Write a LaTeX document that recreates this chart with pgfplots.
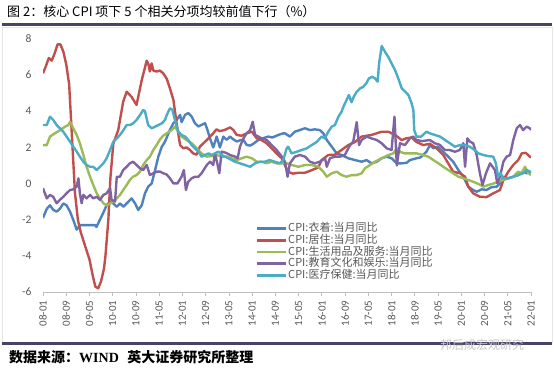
\documentclass[border=0pt]{standalone}
\usepackage{fontspec}
\setmainfont{Carlito}
\newfontfamily\cjk{Noto Sans CJK SC}
\newfontfamily\serifb{Liberation Serif}
\usepackage{pgfplots}
\pgfplotsset{compat=1.18}
\definecolor{cblue}{HTML}{4F81BD}
\definecolor{cred}{HTML}{C0504D}
\definecolor{cgreen}{HTML}{9BBB59}
\definecolor{cpurple}{HTML}{8064A2}
\definecolor{ccyan}{HTML}{4BACC6}
\definecolor{labelgray}{HTML}{595959}
\definecolor{axisgray}{HTML}{BFBFBF}
\definecolor{titlepurple}{HTML}{4A4266}
\begin{document}
\begin{tikzpicture}[x=1pt,y=1pt]
\useasboundingbox (0,0) rectangle (554,369);
\fill[white] (0,0) rectangle (554,369);
\draw[gray!20, line width=0.6pt] (2,27) rectangle (552,342);
\draw[titlepurple, line width=3pt] (2,344) -- (552,344);
\draw[titlepurple, line width=3pt] (2,25) -- (552,25);
\node[anchor=west, inner sep=0pt] at (7,357) {\cjk\fontsize{13}{15}\selectfont 图 2：核心 CPI 项下 5 个相关分项均较前值下行（\%）};
\node[anchor=west, inner sep=0pt] at (9,12) {\cjk\bfseries\fontsize{14}{16}\selectfont 数据来源：{\serifb\bfseries WIND}\hspace{0.6em}英大证券研究所整理};
\node[anchor=west, inner sep=0pt, text=gray!45] at (440,24) {\cjk\fontsize{12}{14}\selectfont 邦后成宏观研究};
\begin{axis}[
  at={(43pt,77pt)}, anchor=south west, scale only axis,
  width=488pt, height=253pt,
  xmin=0, xmax=168, ymin=-6, ymax=8,
  axis x line*=bottom, axis y line*=left,
  y axis line style={draw=none},
  ytick style={draw=none},
  ytick={-6,-4,...,8},
  xtick={0,8,...,168},
  xticklabels={08-01,08-09,09-05,10-01,10-09,11-05,12-01,12-09,13-05,14-01,14-09,15-05,16-01,16-09,17-05,18-01,18-09,19-05,20-01,20-09,21-05,22-01},
  xticklabel style={rotate=90, anchor=east, font=\fontsize{11}{12}\selectfont, text=labelgray, xshift=-1pt},
  yticklabel style={font=\fontsize{11.5}{12}\selectfont, text=labelgray, xshift=-4pt},
  x axis line style={draw=axisgray, line width=0.8pt, -},
  xtick style={draw=axisgray, line width=0.8pt},
  tick align=outside, major tick length=4pt,
  /pgf/number format/assume math mode=true,
  every axis plot/.append style={line width=2.4pt, line join=round, mark=none},
  legend style={at={(0.43,0.285)}, anchor=north west, draw=none, fill=none,
    font=\cjk\fontsize{11}{13}\selectfont, text=labelgray, row sep=-1.5pt,
    nodes={inner sep=0.6pt, text height=9pt, text depth=3pt}},
  legend cell align=left,
  legend image code/.code={\draw[#1, line width=2.6pt] (0pt,0pt) -- (29pt,0pt);},
]
\addplot[color=cblue] coordinates {
(0,-1.9)(1.3,-1.4)(2.4,-1.2)(3.5,-1.45)(4.7,-1.55)(5.8,-1.4)(7,-1.1)(8.1,-1.2)(9.3,-1.55)(10.4,-2.0)(11.6,-2.55)(12.7,-2.3)(14.4,-2.3)(16.1,-2.3)(17.9,-2.3)(18.4,-2.4)(19.6,-2.0)(20.8,-1.6)(21.9,-1.2)(23.1,-1.0)(24.2,-1.1)(25.4,-1.28)(26.5,-1.1)(27.7,-1.28)(28.8,-1.1)(30.5,-0.82)(31.7,-1.1)(32.8,-1.46)(34,-1.2)(35.1,-0.54)(36.2,-0.17)(37.4,0.0)(38.6,0.75)(39.7,1.49)(40.9,2.04)(42,2.32)(43.7,2.97)(44.9,3.34)(46,3.52)(47.2,3.8)(47.7,3.4)(48.9,3.8)(50,3.9)(51.2,3.7)(52.3,3.34)(53.5,3.16)(54.6,3.25)(55.8,3.34)(56.6,2.97)(57.5,2.5)(58.6,2.0)(59.8,2.6)(60.9,2.0)(62.1,2.6)(63.2,2.42)(64.4,2.6)(65.5,2.45)(66.7,2.33)(68,2.4)(69,2.42)(70.1,2.14)(71.3,2.1)(72.4,2.2)(74.1,2.41)(75.5,2.5)(77.6,2.6)(79,2.55)(81,2.69)(82.7,2.78)(83.3,2.78)(85,2.6)(86.7,2.87)(88.4,2.96)(90.2,3.06)(91.9,2.96)(93.6,3.0)(95.3,2.96)(96.5,2.78)(97.7,2.41)(99.4,2.04)(101.1,1.67)(102.8,1.58)(105.1,1.4)(107.4,1.3)(109.7,1.21)(111.4,1.3)(113.1,1.12)(114.9,1.21)(116.6,1.4)(118.3,1.49)(120,1.4)(121.8,1.12)(123.5,1.12)(125.2,1.15)(126.3,1.3)(128.6,1.4)(130,1.45)(132,1.76)(133.2,2.13)(134.4,1.95)(135.9,2.04)(137.8,1.76)(139.5,1.49)(141.2,1.21)(143,0.75)(144.7,0.38)(146.4,-0.17)(148.1,-0.36)(149.3,-0.45)(151,-0.32)(152.7,-0.35)(154.4,-0.2)(156.2,-0.17)(157.3,0.0)(158.5,0.38)(160.2,0.3)(161.9,0.38)(163.6,0.47)(165.3,0.66)(166.5,0.57)(168,0.66)};
\addlegendentry{CPI:衣着:当月同比}
\addplot[color=cred] coordinates {
(0,6.1)(1,6.5)(2,6.95)(3,6.8)(4,7.2)(5,7.7)(6,7.7)(7,7.3)(8,6.6)(9,5.5)(10,2.5)(11,-0.5)(12,-2.0)(13,-2.7)(14,-3.2)(15,-3.7)(16,-4.2)(17,-5.0)(18,-5.7)(19,-5.8)(20,-5.4)(21,-4.7)(21.5,-4.0)(22.5,-2.0)(23.2,0.3)(24.2,2.2)(25.9,2.96)(27.6,4.53)(28.8,5.08)(30.5,4.8)(32.2,4.35)(34,5.73)(35.7,6.8)(36.3,6.6)(36.8,6.2)(37.4,6.65)(38,6.25)(39.1,6.2)(40.3,6.25)(41.4,6.1)(42.6,5.8)(43.7,5.27)(44.9,4.62)(46,3.33)(47.2,2.13)(48.3,1.95)(49.4,2.0)(50.6,1.86)(51.7,1.67)(52.9,1.6)(54,2.04)(56.4,2.41)(58.6,2.78)(59.7,3.0)(60.9,2.9)(62.6,2.97)(64.4,3.11)(65.5,2.97)(66.7,2.69)(68.4,2.65)(70.1,2.78)(71.9,2.87)(73.6,2.5)(75.3,2.4)(77,2.23)(78.7,1.95)(80.4,1.67)(82.2,1.4)(83.3,1.0)(84.4,0.65)(86,0.55)(88,0.6)(90.2,0.6)(92.5,0.74)(94.8,0.9)(95.9,1.3)(98.2,1.58)(100.5,1.6)(102.8,1.86)(105.1,2.13)(107.4,2.3)(109.7,2.6)(113.1,2.69)(116.6,2.87)(118.9,2.87)(121.2,2.69)(123.5,2.41)(125,2.5)(126.9,2.55)(128.6,2.3)(130.9,2.13)(133.2,2.2)(135.5,1.95)(137.8,1.58)(139.5,1.12)(141.2,0.66)(143.5,0.57)(145.3,0.38)(146.4,-0.17)(148.1,-0.54)(150.4,-0.73)(152.7,-0.75)(155,-0.54)(157.3,-0.36)(158.5,0.2)(160.2,0.66)(161.9,1.03)(163.6,1.3)(164.8,1.67)(166.2,1.7)(167.6,1.49)(168,1.45)};
\addlegendentry{CPI:居住:当月同比}
\addplot[color=cgreen] coordinates {
(0,2.13)(1.3,2.13)(2.4,2.6)(4.1,2.78)(5.9,2.96)(7.6,3.15)(8.7,3.24)(9.3,3.42)(10.4,3.06)(11.6,2.69)(12.7,2.23)(13.9,1.58)(15,0.93)(16.2,0.38)(17.3,-0.08)(18.5,-0.54)(19.6,-0.82)(20.8,-1.09)(21.9,-1.2)(23.1,-1.1)(24.2,-1.0)(25.4,-0.82)(26.5,-0.63)(27.6,-0.36)(28.8,-0.08)(29.9,0.2)(31,0.38)(32.2,0.47)(33.4,0.66)(34.5,1.03)(35.7,1.3)(36.8,1.49)(38,1.86)(39.1,2.13)(40.3,2.45)(41.4,2.65)(42.6,2.78)(44.3,2.96)(45.4,3.15)(46.6,2.87)(47.7,2.6)(49.4,2.41)(51.2,2.23)(52.9,1.95)(54.6,1.67)(56.4,1.49)(58,1.52)(59.8,1.58)(61.5,1.49)(63.2,1.49)(64.9,1.4)(66.7,1.3)(68.4,1.4)(70.1,1.49)(71.9,1.4)(73.6,1.21)(75.3,1.21)(77,1.12)(78.7,1.21)(80.4,1.12)(82,1.12)(83.9,1.12)(85.6,1.03)(87.9,0.93)(90.2,1.03)(92.5,1.03)(94.8,0.93)(96.5,0.66)(97.7,0.38)(99.4,0.57)(101.1,0.66)(102.8,0.47)(104.5,0.38)(106.3,0.47)(108,0.47)(109.7,0.57)(110.8,0.84)(112.6,1.03)(114.3,1.21)(116.6,1.4)(118.9,1.58)(120.6,1.67)(121.8,1.95)(123,1.75)(124.6,1.67)(126.3,1.67)(128.6,1.67)(130.9,1.58)(132.6,1.49)(134.4,1.3)(136.1,1.12)(137.8,0.93)(139.5,0.75)(141.2,0.57)(143,0.38)(144.7,0.29)(146.4,0.2)(148.1,0.1)(149.9,-0.02)(151.6,-0.17)(153.3,-0.08)(155,0.0)(156.7,0.1)(158.5,0.2)(160.2,0.29)(161.9,0.38)(163.6,0.66)(164.8,0.57)(165.9,0.93)(167,0.6)(168,0.47)};
\addlegendentry{CPI:生活用品及服务:当月同比}
\addplot[color=cpurple] coordinates {
(0,-0.26)(1.3,-0.82)(2.4,-0.63)(3.5,-0.73)(4.7,-1.09)(5.8,-0.9)(7,-0.73)(8.1,-0.54)(9.3,-0.36)(10.4,-0.32)(11.6,-0.17)(12.2,0.29)(12.7,-0.54)(13.3,-1.09)(13.9,-0.63)(15,-0.82)(16.2,-0.63)(17.3,-0.82)(18.5,-0.73)(19.6,-0.9)(20.8,-0.63)(21.9,-0.54)(23.1,-0.26)(23.6,-0.9)(24.8,-1.0)(25.4,0.38)(26.5,0.38)(27.6,0.75)(28.8,0.93)(29.9,1.12)(31,1.21)(32.2,1.03)(33.4,0.84)(34.5,0.75)(35.7,1.03)(36.8,0.47)(38,0.57)(39.1,0.66)(40.3,0.66)(41.4,0.57)(42.6,0.5)(43.7,0.29)(44.9,0.01)(46.3,0.01)(47.7,0.38)(48.5,0.75)(49.2,-0.36)(50,0.1)(51.2,0.29)(52.3,0.38)(53.5,0.38)(54.6,0.57)(56.4,1.03)(57.5,1.21)(58.6,1.03)(59.2,1.67)(60,1.12)(60.7,0.57)(61.5,1.77)(63,1.7)(64.4,1.58)(66.1,1.49)(67,1.4)(67.8,2.04)(69,2.5)(70.1,2.78)(71.3,2.96)(72.2,3.42)(73,2.69)(74.1,2.6)(75.3,2.5)(77,2.41)(78.7,2.13)(80.4,1.86)(82.2,1.49)(83.3,1.21)(84.2,0.38)(85,1.12)(86.7,1.49)(88.4,1.58)(90.2,1.49)(91.9,1.21)(93.6,1.12)(95.3,1.21)(97.1,1.4)(97.7,0.93)(98.8,1.4)(100.5,1.49)(102.2,1.49)(103.9,1.58)(105.7,2.13)(106.8,2.32)(108,3.4)(108.8,2.13)(109.7,2.41)(111.4,2.6)(113.1,2.5)(114.9,2.41)(116.6,2.23)(118.3,1.95)(120,1.86)(121,3.7)(121.8,1.0)(122.9,2.23)(124.6,2.13)(126.3,2.5)(127.4,2.6)(128.6,2.41)(130.5,2.35)(133.2,2.41)(134.9,2.23)(136.5,2.15)(138.4,1.86)(140,1.86)(141.8,1.76)(143.5,1.86)(144.7,2.23)(145.3,0.93)(146.1,2.5)(147,2.32)(148.1,2.23)(149.3,1.58)(150.4,0.57)(151.3,-0.08)(152.5,0.57)(153.9,1.12)(155.6,0.75)(156.4,0.01)(157.3,0.38)(158.5,1.21)(159.6,1.49)(160.8,1.58)(161.9,2.41)(163.1,3.06)(164.2,3.24)(165.3,2.96)(166.5,3.15)(167.6,3.06)(168,2.96)};
\addlegendentry{CPI:教育文化和娱乐:当月同比}
\addplot[color=ccyan] coordinates {
(0,3.24)(1.3,3.24)(2.4,3.7)(3.5,3.52)(4.7,3.24)(5.8,3.06)(7,2.87)(8.1,2.6)(9.3,2.32)(10.4,2.04)(11.6,1.77)(12.7,1.49)(13.9,1.21)(15,1.03)(16.2,0.93)(17.3,0.93)(18.5,0.75)(19.6,0.93)(20.8,1.12)(21.9,1.4)(23.1,1.86)(24.2,2.32)(25.4,2.5)(26.5,2.69)(27.7,2.96)(28.8,3.24)(29.9,3.24)(31,3.33)(32.2,3.52)(33.4,3.79)(34.5,4.07)(35.1,4.0)(36.2,3.24)(37.4,3.06)(38.6,3.15)(39.7,3.24)(40.9,3.33)(42,3.52)(42.6,3.79)(43.7,4.16)(44.5,4.1)(45.4,3.52)(46.6,2.87)(47.7,2.69)(48.9,2.6)(50,2.41)(51.2,2.13)(52.3,1.95)(53.5,1.77)(54.6,1.49)(55.8,1.58)(57,1.67)(58,1.58)(59.2,1.67)(60.4,1.77)(61.5,1.58)(62.7,1.49)(63.8,1.4)(65,1.3)(66.1,1.21)(67.8,1.12)(69.5,1.03)(71.3,0.93)(73,1.12)(74.7,1.21)(76.4,1.21)(78,1.3)(79.8,1.21)(81.5,1.12)(82.7,1.3)(83.9,1.95)(84.4,2.04)(85.6,1.67)(87.3,1.76)(89.1,1.86)(90.8,1.95)(92.5,2.13)(94.2,2.3)(95.9,2.6)(97,2.5)(98.2,2.87)(99.4,3.15)(100.5,3.24)(101.7,3.7)(102.8,3.98)(103.4,4.25)(104.5,4.62)(105.3,4.9)(106.2,4.5)(107,4.81)(108,5.08)(109.2,5.27)(110.3,5.36)(111.3,5.55)(112.2,5.82)(113.4,5.91)(114.3,5.82)(115.2,5.64)(115.7,6.65)(116.6,7.61)(117.7,7.3)(118.9,7.0)(120,6.65)(121.2,6.28)(122.3,5.82)(123.5,5.27)(124.6,5.1)(125.8,4.9)(126.9,4.44)(127.5,4.07)(127.8,2.96)(128.6,2.6)(130.2,2.6)(132,2.87)(133.2,2.78)(134.9,2.69)(136.7,2.6)(138.4,2.41)(140.1,2.23)(141.8,2.04)(143.5,2.13)(145.2,2.13)(146.9,2.04)(148.6,1.86)(149.9,1.67)(151.6,1.58)(153.3,1.52)(155,1.49)(155.9,1.12)(156.7,0.38)(157.5,0.57)(158.5,0.29)(160.2,0.29)(161.9,0.38)(163.6,0.47)(165.3,0.57)(166.5,0.75)(167.6,0.66)(168,0.6)};
\addlegendentry{CPI:医疗保健:当月同比}
\end{axis}
\end{tikzpicture}
\end{document}
